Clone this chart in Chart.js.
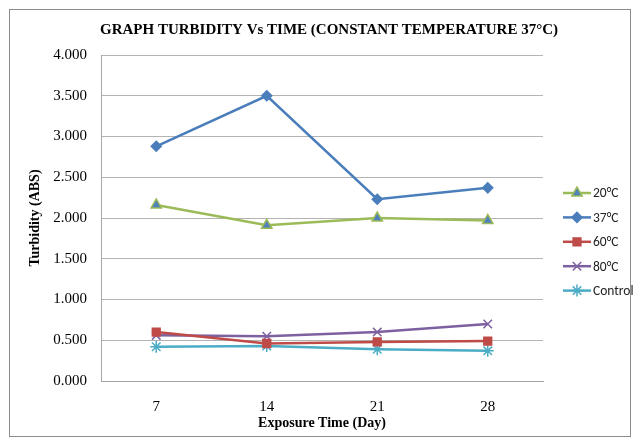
<!DOCTYPE html>
<html>
<head>
<meta charset="utf-8">
<script src="https://cdn.jsdelivr.net/npm/chart.js@4"></script>
<style>
  html, body { margin: 0; padding: 0; background: #fff; }
  #wrap { width: 636px; height: 442px; position: relative; }
</style>
</head>
<body>
<div id="wrap"><canvas id="chart" width="636" height="442"></canvas></div>
<script>
// Data
const days = ['7', '14', '21', '28'];
const t20 = [2.16, 1.91, 2.00, 1.97];
const t37 = [2.88, 3.50, 2.23, 2.37];
const t60 = [0.60, 0.46, 0.48, 0.49];
const t80 = [0.56, 0.55, 0.60, 0.70];
const control = [0.42, 0.43, 0.39, 0.37];
const seriesNames = ['20°C', '37°C', '60°C', '80°C', 'Control'];

const serif = '"Liberation Serif", "Times New Roman", serif';
const sans = 'Carlito, "Liberation Sans", Arial, sans-serif';

function series(label, data, color, pointStyle, fill, radius) {
    return {
        label: label,
        data: data,
        borderColor: color,
        borderWidth: 2.5,
        backgroundColor: fill,
        pointBorderColor: color,
        pointBackgroundColor: fill,
        pointStyle: pointStyle,
        pointRadius: radius,
        pointBorderWidth: 1.5,
        tension: 0
    };
}

// Frame, title and Excel-like legend
const decorations = {
    id: 'decorations',
    beforeDraw(chart) {
        const ctx = chart.ctx;
        ctx.save();
        ctx.fillStyle = '#fff';
        ctx.fillRect(0, 0, chart.width, chart.height);
        ctx.strokeStyle = '#8c8c8c';
        ctx.lineWidth = 1;
        ctx.strokeRect(9.5, 9.5, 621, 427);
        ctx.restore();
    },
    afterDraw(chart) {
        const ctx = chart.ctx;
        ctx.save();
        ctx.fillStyle = '#000';
        ctx.font = 'bold 15px ' + serif;
        ctx.textAlign = 'center';
        ctx.textBaseline = 'middle';
        ctx.fillText('GRAPH TURBIDITY Vs TIME (CONSTANT TEMPERATURE 37°C)', 329, 30);

        const x0 = 563, x1 = 591;
        chart.data.datasets.forEach((ds, i) => {
            const y = 193 + i * 24.4;
            ctx.strokeStyle = ds.borderColor;
            ctx.lineWidth = 2.5;
            ctx.beginPath();
            ctx.moveTo(x0, y);
            ctx.lineTo(x1, y);
            ctx.stroke();
            ctx.fillStyle = ds.pointBackgroundColor;
            ctx.strokeStyle = ds.pointBorderColor;
            ctx.lineWidth = 1.5;
            Chart.helpers.drawPoint(ctx, {
                pointStyle: ds.pointStyle,
                radius: ds.pointRadius,
                borderWidth: 1.5,
                rotation: 0
            }, (x0 + x1) / 2, y);
            ctx.fillStyle = '#222';
            ctx.font = '13.5px ' + sans;
            ctx.textAlign = 'left';
            ctx.fillText(ds.label, x1 + 2, y + 1);
        });
        ctx.restore();
    }
};

new Chart(document.getElementById('chart'), {
    type: 'line',
    data: {
        labels: days,
        datasets: [
            series(seriesNames[0], t20, '#9bbb59', 'triangle', '#4f81bd', 6),
            series(seriesNames[1], t37, '#4a7ebb', 'rectRot', '#4a7ebb', 5),
            series(seriesNames[2], t60, '#be4b48', 'rect', '#be4b48', 5.5),
            series(seriesNames[3], t80, '#7d60a0', 'crossRot', '#7d60a0', 6),
            series(seriesNames[4], control, '#4bacc6', 'star', '#4bacc6', 6)
        ]
    },
    options: {
        responsive: false,
        animation: false,
        layout: { padding: { top: 55, right: 93, left: 0, bottom: 0 } },
        plugins: {
            legend: { display: false },
            tooltip: { enabled: false }
        },
        scales: {
            x: {
                offset: true,
                grid: { display: false, drawTicks: false },
                border: { color: '#a6a6a6' },
                ticks: { color: '#000', font: { family: serif, size: 15 }, padding: 17 },
                title: {
                    display: true,
                    text: 'Exposure Time (Day)',
                    color: '#000',
                    font: { family: serif, size: 14, weight: 'bold' },
                    padding: { bottom: 10 }
                },
                afterFit(scale) { scale.height = 61; }
            },
            y: {
                min: 0,
                max: 4,
                ticks: {
                    stepSize: 0.5,
                    color: '#000',
                    font: { family: serif, size: 15 },
                    padding: 14,
                    callback: v => v.toFixed(3)
                },
                grid: { color: '#b3b3b3', drawTicks: false },
                border: { color: '#a6a6a6' },
                title: {
                    display: true,
                    text: 'Turbidity (ABS)',
                    color: '#000',
                    font: { family: serif, size: 14, weight: 'bold' },
                    padding: { top: 27 }
                },
                afterFit(scale) { scale.width = 101; }
            }
        }
    },
    plugins: [decorations]
});
</script>
</body>
</html>
